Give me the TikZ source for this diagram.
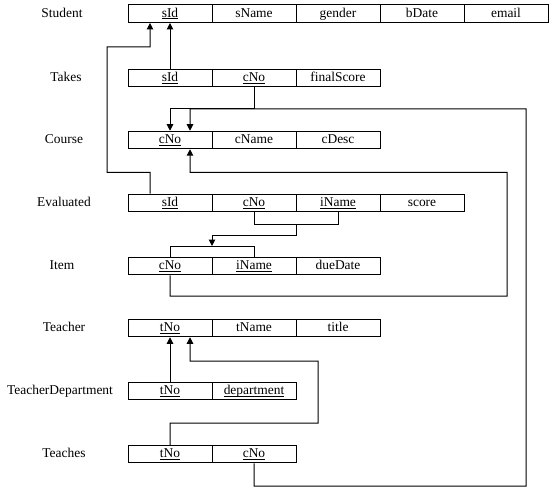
\documentclass[tikz,border=0pt]{standalone}
\usepackage{fontspec}
\setmainfont{Liberation Serif}
\usetikzlibrary{arrows.meta}
\begin{document}
\begin{tikzpicture}[x=1bp,y=-1bp,line width=1bp,
  cell/.style={draw,minimum width=84bp,minimum height=17.5bp,inner sep=0pt,
    text height=9bp,text depth=2bp,font=\fontsize{13.5}{15}\selectfont},
  lbl/.style={inner sep=0pt,text height=9bp,text depth=2bp,font=\fontsize{13.5}{15}\selectfont},
  conn/.style={line width=1bp},
  arr/.style={line width=1bp,-{Triangle[width=6.5bp,length=6.5bp]}}]
\useasboundingbox (0,0) rectangle (552,491);
\newcommand{\kk}[1]{\underline{\raisebox{0pt}[\height][0pt]{#1}}}
% Student
\node[lbl] (Ls) at (62,13.75) {Student};
\node[cell] (s1) at (170,13.75) {\kk{sId}};
\node[cell] (s2) at (254,13.75) {sName};
\node[cell] (s3) at (338,13.75) {gender};
\node[cell] (s4) at (422,13.75) {bDate};
\node[cell] (s5) at (506,13.75) {email};
% Takes
\node[lbl] (Lt) at (66,78) {Takes};
\node[cell] (t1) at (170,78) {\kk{sId}};
\node[cell] (t2) at (254,78) {\kk{cNo}};
\node[cell] (t3) at (338,78) {finalScore};
% Course
\node[lbl] (Lc) at (64,140) {Course};
\node[cell] (c1) at (170,140) {\kk{cNo}};
\node[cell] (c2) at (254,140) {cName};
\node[cell] (c3) at (338,140) {cDesc};
% Evaluated
\node[lbl] (Le) at (64,203) {Evaluated};
\node[cell] (e1) at (170,203) {\kk{sId}};
\node[cell] (e2) at (254,203) {\kk{cNo}};
\node[cell] (e3) at (338,203) {\kk{iName}};
\node[cell] (e4) at (422,203) {score};
% Item
\node[lbl] (Li) at (62,266) {Item};
\node[cell] (i1) at (170,266) {\kk{cNo}};
\node[cell] (i2) at (254,266) {\kk{iName}};
\node[cell] (i3) at (338,266) {dueDate};
% Teacher
\node[lbl] (Lr) at (64,328) {Teacher};
\node[cell] (r1) at (170,328) {\kk{tNo}};
\node[cell] (r2) at (254,328) {tName};
\node[cell] (r3) at (338,328) {title};
% TeacherDepartment
\node[lbl] (Ld) at (60,391) {TeacherDepartment};
\node[cell] (d1) at (170,391) {\kk{tNo}};
\node[cell] (d2) at (254,391) {\kk{department}};
% Teaches
\node[lbl] (Lh) at (64,454) {Teaches};
\node[cell] (h1) at (170,454) {\kk{tNo}};
\node[cell] (h2) at (254,454) {\kk{cNo}};
% connectors
\draw[arr] (t1.north) -- (t1.north |- s1.south);
\draw[arr] ([xshift=-20bp]e1.north) -- (150,172.5) -- (107,172.5) -- (107,47) -- (150,47) -- ([xshift=-20bp]s1.south);
\draw[arr] (t2.south) -- (254,109) -- (170,109) -- (c1.north);
\draw[arr] (h2.south) -- (254,486) -- (526,486) -- (526,109) -- (190,109) -- ([xshift=20bp]c1.north);
\draw[arr] (i1.south) -- (170,296) -- (507,296) -- (507,172.5) -- (190,172.5) -- ([xshift=20bp]c1.south);
\draw[conn] (e2.south) -- (254,224) -- (338,224) -- (e3.south);
\draw[conn] (i1.north) -- (170,246) -- (254,246) -- (i2.north);
\draw[arr] (296,224) -- (296,235) -- (212,235) -- (212,246);
\draw[arr] (d1.north) -- (r1.south);
\draw[arr] (h1.north) -- (170,423) -- (318,423) -- (318,361) -- (190,361) -- ([xshift=20bp]r1.south);
\end{tikzpicture}
\end{document}
